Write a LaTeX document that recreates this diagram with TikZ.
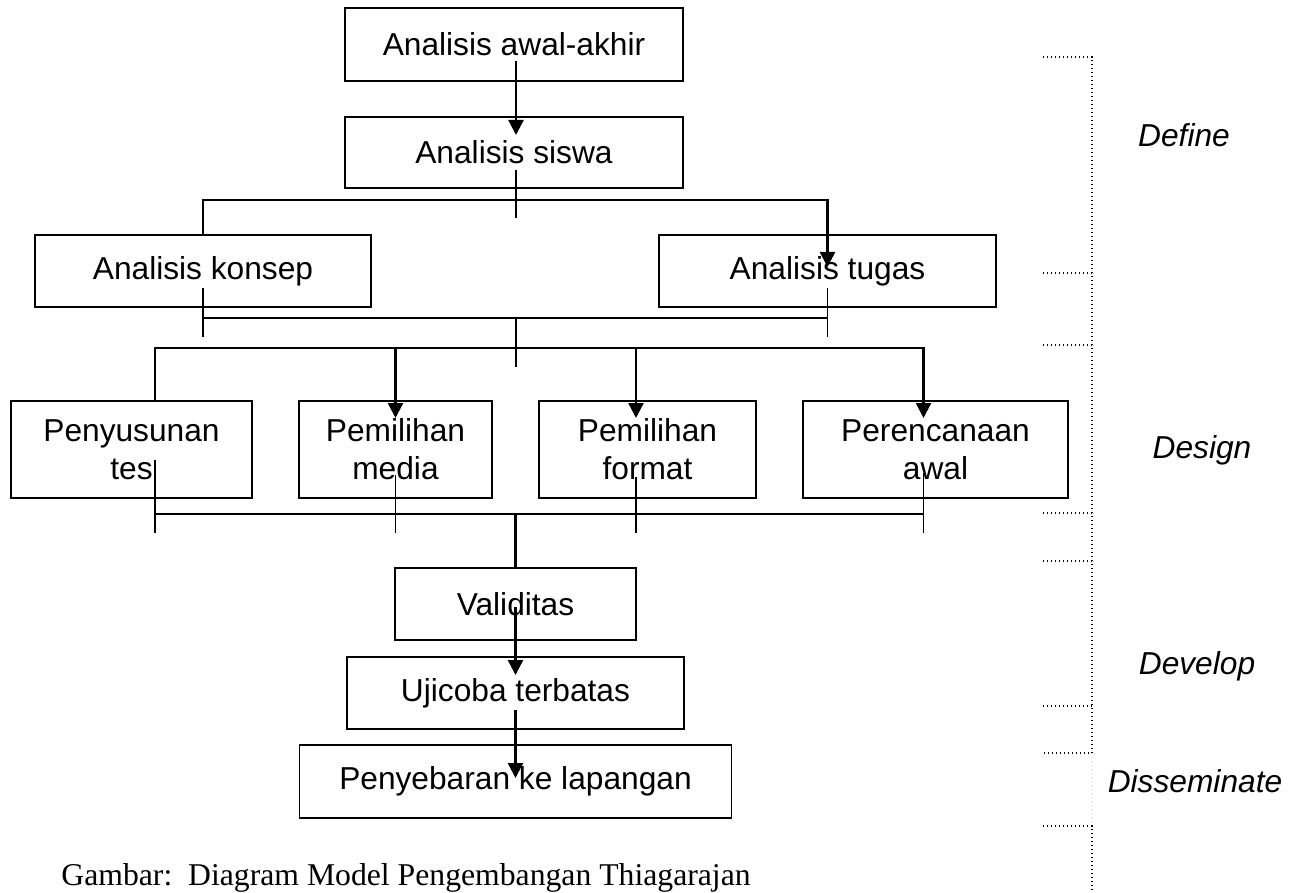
\documentclass[tikz,border=0pt]{standalone}
\usepackage{fontspec}
\setmainfont{Liberation Serif}
\newfontfamily\arialfont{Liberation Sans}
\usepackage{tikz}
\usetikzlibrary{arrows.meta, positioning}

\begin{document}
\begin{tikzpicture}[
  x=0.5pt, y=-0.5pt,
  box/.style={rectangle, draw, line width=0.9pt,
    inner sep=0pt, outer sep=0pt, align=center,
    minimum height=36pt,
    font=\arialfont\fontsize{15.85pt}{19pt}\selectfont},
  flow/.style={line width=1.2pt},
  arrow/.style={flow, -{Triangle[length=7.5pt, width=7.5pt]}},
  joint/.style={line width=0.7pt},
  bracket/.style={line width=0.6pt, dash pattern=on 0.6pt off 1.4pt},
  phase/.style={anchor=base,
    font=\arialfont\itshape\fontsize{15.85pt}{19pt}\selectfont}
]
\useasboundingbox (0,0) rectangle (1290,893);

% Define: analysis boxes
\node[box, minimum width=169pt, minimum height=36.5pt] (awalakhir)
  at (514,44.5) {Analisis awal-akhir};
\node[box, minimum width=169pt, minimum height=35.5pt,
      below=18pt of awalakhir] (siswa) {Analisis siswa};
\node[box, minimum width=168pt] (konsep) at (203,271) {Analisis konsep};
\node[box, minimum width=168.5pt] (tugas) at (827.5,271) {Analisis tugas};

% Design: row of four boxes
\node[box, minimum width=120.5pt, minimum height=48.5pt] (tes)
  at (131.5,449.5) {Penyusunan\\tes};
\node[box, minimum width=96.5pt, minimum height=48.5pt,
      right=23.5pt of tes] (media) {Pemilihan\\media};
\node[box, minimum width=108.5pt, minimum height=48.5pt,
      right=23.5pt of media] (format) {Pemilihan\\format};
\node[box, minimum width=132.5pt, minimum height=48.5pt,
      right=23.5pt of format] (awal) {Perencanaan\\awal};

% Develop and disseminate
\node[box, minimum width=120.5pt] (validitas) at (515.5,604) {Validitas};
\node[box, minimum width=168.5pt, below=8.5pt of validitas] (ujicoba)
  {Ujicoba terbatas};
\node[box, minimum width=216pt, minimum height=36.5pt,
      below=8pt of ujicoba] (sebar) {Penyebaran ke lapangan};

% Bus points
\coordinate (topbus) at (516,200);
\coordinate (midbus) at (516,318);
\coordinate (lowbus) at (516,348);
\coordinate (basebus) at (515.5,514);

% Connectors of the define stage
\draw[arrow] ([xshift=1pt, yshift=10pt]awalakhir.south)
  -- ([xshift=1pt, yshift=-9pt]siswa.north);
\draw[joint] ([xshift=1pt, yshift=9pt]siswa.south)
  -- ([xshift=1pt, yshift=-15pt]siswa.south);
\draw[arrow] (konsep.north) |- (topbus)
  -| ([yshift=-16pt]tugas.north);
\draw[joint] ([yshift=9.5pt]konsep.south) -- ([yshift=-15pt]konsep.south);
\draw[joint] ([yshift=9.5pt]tugas.south) -- ([yshift=-15pt]tugas.south);
\draw[joint] ([yshift=-5.5pt]konsep.south) -- ([yshift=-5.5pt]tugas.south);
\draw[joint] (midbus) -- ++(0,49);

% Connectors of the design stage
\draw[flow] (lowbus) -| ([xshift=11.75pt]tes.north);
\draw[arrow] (lowbus) -| ([yshift=-8.5pt]media.north);
\draw[arrow] (lowbus) -| ([xshift=-5.75pt, yshift=-8.5pt]format.north);
\draw[arrow] (lowbus) -| ([xshift=-6pt, yshift=-8.5pt]awal.north);

\draw[joint] ([xshift=11.75pt, yshift=19pt]tes.south)
  -- ([xshift=11.75pt, yshift=-17.5pt]tes.south);
\draw[joint] ([yshift=11.5pt]media.south)
  -- ([yshift=-17.5pt]media.south);
\draw[joint] ([xshift=-5.75pt, yshift=10.5pt]format.south)
  -- ([xshift=-5.75pt, yshift=-17.5pt]format.south);
\draw[joint] ([xshift=-6pt, yshift=12.5pt]awal.south)
  -- ([xshift=-6pt, yshift=-17.5pt]awal.south);
\draw[joint] ([xshift=11.75pt, yshift=-8pt]tes.south)
  -- ([xshift=-6pt, yshift=-8pt]awal.south);
\draw[flow] (basebus) -- (validitas.north);

% Connectors of the develop stage
\draw[arrow] ([yshift=16.5pt]validitas.south)
  -- ([yshift=-9pt]ujicoba.north);
\draw[arrow] ([yshift=9.5pt]ujicoba.south)
  -- ([yshift=-16.5pt]sebar.north);

% Phase bracket on the right
\draw[bracket] (1043,57) -- (1092,57) -- (1092,753) -- (1043,753);
\draw[bracket] (1043,273) -- (1092,273);
\draw[bracket] (1043,345) -- (1092,345);
\draw[bracket] (1043,513) -- (1092,513);
\draw[bracket] (1043,561) -- (1092,561);
\draw[bracket] (1043,706) -- (1092,706);
\draw[bracket, black!12] (1092,753) -- (1092,826);
\draw[bracket] (1043,826) -- (1092,826) -- (1092,893);

\node[phase] (define) at (1184,147) {Define};
\node[phase] (design) at (1202,458) {Design};
\node[phase] (develop) at (1197,674) {Develop};
\node[phase] (disseminate) at (1195,792) {Disseminate};

% Caption
\node[anchor=base west, inner sep=0pt,
      font=\fontsize{15.85pt}{19pt}\selectfont] (caption)
  at (61,885) {Gambar:\ \ Diagram Model Pengembangan Thiagarajan};
\end{tikzpicture}
\end{document}
